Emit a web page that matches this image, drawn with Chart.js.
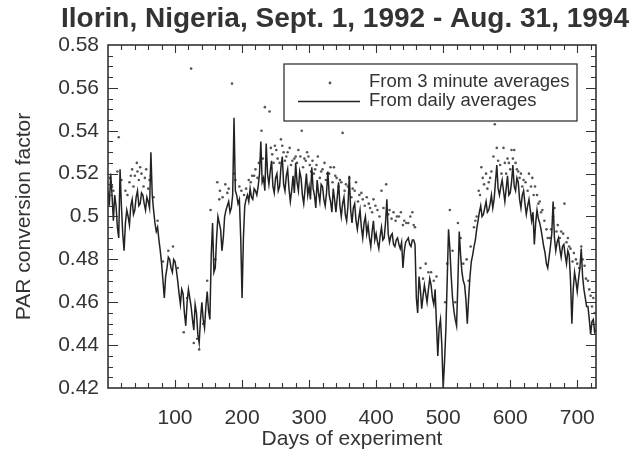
<!DOCTYPE html>
<html>
<head>
<meta charset="utf-8">
<title>PAR conversion factor - Ilorin</title>
<script src="https://cdn.jsdelivr.net/npm/chart.js@4.4.1/dist/chart.umd.min.js"></script>
<style>
  html, body { margin: 0; padding: 0; background: #fff; }
</style>
</head>
<body>
<canvas id="parChart" width="642" height="458"></canvas>
<script>
// daily-average PAR conversion factor, one reading every 2 days starting at day 0
const dayStep = 2;
const dailyValues = [
  // day 0
  0.512, 0.505, 0.520, 0.510, 0.498, 0.510, 0.505, 0.495, 0.490, 0.522,
  0.505, 0.492, 0.484, 0.497, 0.503, 0.500, 0.496, 0.505, 0.508, 0.501,
  // day 40
  0.503, 0.509, 0.512, 0.505, 0.506, 0.511, 0.510, 0.506, 0.503, 0.509,
  0.507, 0.504, 0.530, 0.510, 0.503, 0.497, 0.493, 0.495, 0.489, 0.484,
  // day 80
  0.478, 0.470, 0.462, 0.472, 0.476, 0.481, 0.480, 0.476, 0.474, 0.480,
  0.479, 0.475, 0.470, 0.464, 0.459, 0.466, 0.464, 0.455, 0.449, 0.460,
  // day 120
  0.466, 0.462, 0.458, 0.452, 0.447, 0.459, 0.455, 0.445, 0.441, 0.452,
  0.460, 0.452, 0.448, 0.458, 0.465, 0.456, 0.452, 0.482, 0.497, 0.474,
  // day 160
  0.476, 0.490, 0.500, 0.497, 0.494, 0.484, 0.490, 0.500, 0.503, 0.505,
  0.507, 0.502, 0.504, 0.510, 0.546, 0.512, 0.510, 0.506, 0.508, 0.490,
  // day 200
  0.462, 0.490, 0.505, 0.508, 0.510, 0.507, 0.513, 0.509, 0.508, 0.513,
  0.512, 0.510, 0.514, 0.520, 0.535, 0.516, 0.518, 0.512, 0.534, 0.520,
  // day 240
  0.515, 0.521, 0.526, 0.514, 0.511, 0.518, 0.520, 0.512, 0.514, 0.523,
  0.528, 0.515, 0.512, 0.519, 0.522, 0.513, 0.507, 0.512, 0.519, 0.511,
  // day 280
  0.525, 0.516, 0.512, 0.521, 0.518, 0.510, 0.506, 0.513, 0.520, 0.510,
  0.514, 0.508, 0.523, 0.513, 0.510, 0.504, 0.517, 0.511, 0.507, 0.515,
  // day 320
  0.514, 0.508, 0.505, 0.511, 0.521, 0.510, 0.507, 0.502, 0.513, 0.508,
  0.502, 0.509, 0.516, 0.505, 0.500, 0.506, 0.509, 0.501, 0.498, 0.505,
  // day 360
  0.519, 0.503, 0.497, 0.504, 0.506, 0.498, 0.494, 0.499, 0.503, 0.495,
  0.490, 0.497, 0.500, 0.492, 0.496, 0.490, 0.486, 0.493, 0.498, 0.489,
  // day 400
  0.492, 0.488, 0.485, 0.491, 0.495, 0.489, 0.490, 0.497, 0.508, 0.492,
  0.488, 0.491, 0.492, 0.487, 0.486, 0.489, 0.490, 0.487, 0.485, 0.488,
  // day 440
  0.476, 0.484, 0.488, 0.489, 0.490, 0.487, 0.486, 0.489, 0.489, 0.487,
  0.462, 0.455, 0.472, 0.466, 0.457, 0.463, 0.468, 0.464, 0.460, 0.466,
  // day 480
  0.471, 0.468, 0.462, 0.459, 0.466, 0.450, 0.435, 0.448, 0.452, 0.440,
  0.420, 0.432, 0.447, 0.470, 0.494, 0.485, 0.472, 0.462, 0.456, 0.452,
  // day 520
  0.449, 0.470, 0.493, 0.482, 0.474, 0.470, 0.468, 0.461, 0.450, 0.462,
  0.472, 0.479, 0.482, 0.486, 0.489, 0.494, 0.498, 0.502, 0.505, 0.500,
  // day 560
  0.501, 0.504, 0.507, 0.502, 0.503, 0.506, 0.510, 0.504, 0.508, 0.516,
  0.524, 0.513, 0.510, 0.514, 0.517, 0.512, 0.507, 0.513, 0.519, 0.510,
  // day 600
  0.511, 0.516, 0.524, 0.514, 0.512, 0.518, 0.516, 0.508, 0.504, 0.510,
  0.512, 0.506, 0.501, 0.505, 0.508, 0.503, 0.498, 0.502, 0.487, 0.497,
  // day 640
  0.503, 0.499, 0.497, 0.494, 0.490, 0.486, 0.483, 0.478, 0.476, 0.481,
  0.486, 0.492, 0.507, 0.490, 0.484, 0.488, 0.490, 0.485, 0.481, 0.486,
  // day 680
  0.487, 0.482, 0.478, 0.484, 0.482, 0.470, 0.450, 0.466, 0.474, 0.470,
  0.465, 0.471, 0.476, 0.485, 0.472, 0.466, 0.462, 0.458, 0.458, 0.452,
  // day 720
  0.445, 0.451, 0.452, 0.446, 0.447
];

// 3-minute-average estimates: day and factor, line by line
const minuteDays = [
  3, 8, 14, 16, 26, 32, 36, 40, 43, 46, 50, 53, 57, 60, 64, 68,
  74, 82, 90, 97, 104, 113, 118, 124, 128, 133, 136, 142, 148, 153, 160,
  163, 167, 171, 175, 180, 185, 190, 196, 203, 210, 215, 220, 225, 229, 234, 241,
  245, 249, 253, 258, 262, 266, 271, 275, 280, 284, 289, 293, 297, 301, 305, 309,
  313, 318, 323, 327, 332, 337, 341, 346, 350, 355, 360, 365, 370, 375, 380, 386,
  391, 396, 402, 408, 415, 420, 426, 431, 437, 442, 448, 454, 458,
  466, 474, 482, 490, 503, 510, 514, 522, 530, 535,
  541, 546, 550, 553, 557, 561, 566, 570, 575, 577, 580, 585, 590, 594, 598, 602,
  606, 610, 614, 618, 623, 628, 633, 637, 642,
  646, 651, 656, 661, 666, 671, 676, 681, 686, 690, 695, 700, 706, 711, 716, 720, 724,
  6, 20, 29, 34, 38, 44, 48, 55, 62,
  166, 178, 188, 199, 206, 213, 218, 223, 231,
  243, 247, 251, 256, 260, 264, 268, 273, 278, 282, 287, 291, 295, 299, 303, 307,
  311, 316, 320, 325, 330, 335, 339, 344, 348, 353, 358, 363, 368, 373, 378, 383,
  389, 394, 399, 405, 411, 418, 423, 429, 434, 440, 445, 451, 456,
  470, 478, 486, 506, 518, 526, 538,
  548, 555, 559, 564, 568, 572, 582, 587, 592, 596, 600, 604, 608, 612, 616, 620,
  626, 631, 635, 640, 644, 648, 654, 659, 664, 669, 674, 679, 684, 688, 693, 698, 703, 708, 713, 718, 722, 726
];
const minuteValues = [
  0.518, 0.512, 0.521, 0.537, 0.512, 0.516, 0.522, 0.519, 0.525, 0.517, 0.520, 0.514, 0.522, 0.513, 0.519, 0.509,
  0.498, 0.479, 0.484, 0.486, 0.476, 0.446, 0.462, 0.569, 0.441, 0.443, 0.438, 0.450, 0.470, 0.503, 0.480,
  0.516, 0.512, 0.509, 0.515, 0.513, 0.562, 0.517, 0.514, 0.510, 0.517, 0.519, 0.522, 0.525, 0.540, 0.551, 0.549,
  0.529, 0.533, 0.527, 0.536, 0.530, 0.528, 0.532, 0.526, 0.528, 0.531, 0.540, 0.527, 0.530, 0.524, 0.526, 0.522,
  0.528, 0.521, 0.525, 0.520, 0.523, 0.523, 0.518, 0.517, 0.539, 0.515, 0.518, 0.513, 0.516, 0.510, 0.508, 0.509,
  0.504, 0.508, 0.503, 0.512, 0.515, 0.503, 0.502, 0.500, 0.502, 0.498, 0.497, 0.502, 0.495,
  0.476, 0.478, 0.474, 0.472, 0.460, 0.503, 0.484, 0.497, 0.478, 0.480,
  0.486, 0.495, 0.500, 0.512, 0.523, 0.515, 0.513, 0.518, 0.528, 0.543, 0.532, 0.524, 0.532, 0.520, 0.525, 0.531,
  0.531, 0.522, 0.518, 0.514, 0.516, 0.520, 0.518, 0.514, 0.506,
  0.502, 0.498, 0.490, 0.494, 0.504, 0.496, 0.493, 0.506, 0.490, 0.485, 0.483, 0.478, 0.486, 0.477, 0.470, 0.463, 0.462,
  0.514, 0.517, 0.510, 0.519, 0.514, 0.521, 0.523, 0.518, 0.517,
  0.508, 0.511, 0.520, 0.512, 0.513, 0.516, 0.519, 0.518, 0.527,
  0.532, 0.525, 0.531, 0.525, 0.533, 0.526, 0.530, 0.524, 0.527, 0.525, 0.528, 0.523, 0.526, 0.528, 0.521, 0.520,
  0.524, 0.518, 0.522, 0.517, 0.520, 0.516, 0.519, 0.514, 0.516, 0.512, 0.514, 0.509, 0.512, 0.507, 0.511, 0.505,
  0.506, 0.502, 0.505, 0.500, 0.504, 0.501, 0.499, 0.498, 0.500, 0.496, 0.497, 0.500, 0.496,
  0.471, 0.474, 0.470, 0.478, 0.460, 0.490, 0.470,
  0.498, 0.510, 0.518, 0.520, 0.516, 0.521, 0.526, 0.520, 0.525, 0.527, 0.522, 0.527, 0.525, 0.521, 0.520, 0.517,
  0.512, 0.514, 0.510, 0.510, 0.507, 0.503, 0.494, 0.490, 0.500, 0.493, 0.490, 0.492, 0.488, 0.486, 0.479, 0.480, 0.476, 0.480, 0.471, 0.466, 0.458, 0.455
];

const xTickDays = [100, 200, 300, 400, 500, 600, 700];
const yTickValues = [0.42, 0.44, 0.46, 0.48, 0.50, 0.52, 0.54, 0.56, 0.58];

const titleText = 'Ilorin, Nigeria, Sept. 1, 1992 - Aug. 31, 1994';
const ink = '#333';
const fontFam = '"Liberation Sans", Arial, Helvetica, sans-serif';

const dailyPoints = dailyValues.map((v, i) => ({ x: i * dayStep, y: v }));
const minutePoints = minuteDays.map((d, i) => ({ x: d, y: minuteValues[i] }));

// heading sits a little left of the plot centre, so draw it by hand
const heading = {
  id: 'heading',
  afterDraw(chart) {
    const ctx = chart.ctx;
    ctx.save();
    ctx.fillStyle = ink;
    ctx.font = 'bold 28px ' + fontFam;
    ctx.textAlign = 'center';
    ctx.textBaseline = 'middle';
    ctx.fillText(titleText, 345, 19);
    ctx.restore();
  }
};

// boxed frame with inward ticks on all four sides
const frameTicks = {
  id: 'frameTicks',
  afterDatasetsDraw(chart) {
    const { ctx, chartArea: a, scales: { x, y } } = chart;
    ctx.save();
    ctx.strokeStyle = ink;
    ctx.lineWidth = 1.6;
    ctx.strokeRect(a.left, a.top, a.right - a.left, a.bottom - a.top);
    ctx.lineWidth = 1.1;
    ctx.beginPath();
    for (let d = 20; d < 728; d += 20) {
      const px = Math.round(x.getPixelForValue(d)) + 0.5;
      const len = d % 100 === 0 ? 8 : 5;
      ctx.moveTo(px, a.bottom); ctx.lineTo(px, a.bottom - len);
      ctx.moveTo(px, a.top); ctx.lineTo(px, a.top + len);
    }
    for (let k = 1; k < 32; k++) {
      const py = Math.round(y.getPixelForValue((420 + 5 * k) / 1000)) + 0.5;
      const len = k % 4 === 0 ? 10 : 5;
      ctx.moveTo(a.left, py); ctx.lineTo(a.left + len, py);
      ctx.moveTo(a.right, py); ctx.lineTo(a.right - len, py);
    }
    ctx.stroke();
    ctx.restore();
  }
};

// boxed key in the upper right of the plot
const boxedKey = {
  id: 'boxedKey',
  afterDraw(chart) {
    const ctx = chart.ctx;
    ctx.save();
    ctx.strokeStyle = ink;
    ctx.lineWidth = 1.3;
    ctx.strokeRect(284, 64, 293, 57);
    ctx.fillStyle = '#555';
    ctx.beginPath();
    ctx.arc(330, 83, 1.4, 0, Math.PI * 2);
    ctx.fill();
    ctx.strokeStyle = '#222';
    ctx.lineWidth = 1.4;
    ctx.beginPath();
    ctx.moveTo(298, 101.5); ctx.lineTo(360, 101.5);
    ctx.stroke();
    ctx.fillStyle = ink;
    ctx.font = '18.5px ' + fontFam;
    ctx.textBaseline = 'middle';
    ctx.fillText('From 3 minute averages', 369, 82);
    ctx.fillText('From daily averages', 369, 101);
    ctx.restore();
  }
};

new Chart(document.getElementById('parChart'), {
  data: {
    datasets: [
      {
        type: 'line',
        label: 'From daily averages',
        data: dailyPoints,
        borderColor: '#222',
        borderWidth: 1.5,
        pointRadius: 0,
        tension: 0
      },
      {
        type: 'scatter',
        label: 'From 3 minute averages',
        data: minutePoints,
        backgroundColor: '#555',
        borderWidth: 0,
        pointRadius: 1.3
      }
    ]
  },
  options: {
    responsive: false,
    animation: false,
    devicePixelRatio: 1,
    layout: { padding: { left: 12, right: 46, top: 45, bottom: 6 } },
    plugins: {
      legend: { display: false },
      tooltip: { enabled: false },
      title: { display: false }
    },
    scales: {
      x: {
        type: 'linear',
        min: 0,
        max: 728,
        grid: { display: false, drawTicks: false },
        border: { display: false },
        afterBuildTicks: s => { s.ticks = xTickDays.map(v => ({ value: v })); },
        afterFit: s => { s.height = 64; },
        ticks: {
          color: ink,
          padding: 18,
          maxRotation: 0,
          font: { family: fontFam, size: 21 }
        },
        title: {
          display: true,
          text: 'Days of experiment',
          color: ink,
          padding: 0,
          font: { family: fontFam, size: 21, lineHeight: 1.2 }
        }
      },
      y: {
        min: 0.42,
        max: 0.58,
        grid: { display: false, drawTicks: false },
        border: { display: false },
        afterBuildTicks: s => { s.ticks = yTickValues.map(v => ({ value: v })); },
        afterFit: s => { s.width = 96; },
        ticks: {
          color: ink,
          padding: 9,
          font: { family: fontFam, size: 21 },
          callback: v => String(+v.toFixed(2))
        },
        title: {
          display: true,
          text: 'PAR conversion factor',
          color: ink,
          padding: 0,
          font: { family: fontFam, size: 21, lineHeight: 1.2 }
        }
      }
    }
  },
  plugins: [frameTicks, boxedKey, heading]
});
</script>
</body>
</html>
